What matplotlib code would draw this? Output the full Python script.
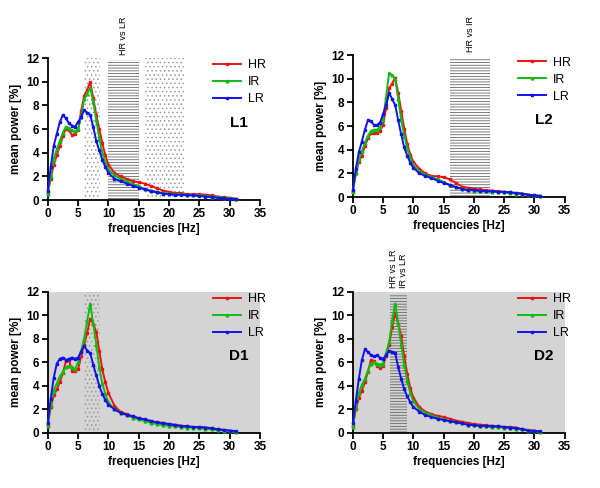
import numpy as np
import matplotlib
matplotlib.use("Agg")
import matplotlib.pyplot as plt

plt.rcParams['font.family'] = ['Liberation Sans', 'DejaVu Sans']
plt.rcParams['hatch.linewidth'] = 0.6

# frequency axis: 0.5 Hz steps up to 10 Hz, then 1 Hz steps
freq = [0, 0.5, 1, 1.5, 2, 2.5, 3, 3.5, 4, 4.5, 5, 5.5, 6, 6.5, 7, 7.5, 8, 8.5, 9, 9.5, 10,
        11, 12, 13, 14, 15, 16, 17, 18, 19, 20, 21, 22, 23, 24, 25, 26, 27, 28, 29, 30, 31]

L1_HR = [0.6, 1.8, 3.0, 3.8, 4.6, 5.4, 6.0, 5.9, 5.5, 5.6, 5.9, 7.5, 8.8, 9.3, 10.0, 8.6, 7.2, 6.0, 4.8, 3.8, 3.0,
         2.3, 2.0, 1.8, 1.6, 1.5, 1.4, 1.2, 1.0, 0.8, 0.7, 0.6, 0.6, 0.5, 0.5, 0.5, 0.45, 0.4, 0.3, 0.25, 0.2, 0.1]
L1_IR = [0.5, 2.0, 3.5, 4.3, 5.0, 5.7, 6.2, 6.1, 5.9, 5.8, 6.0, 7.0, 8.5, 9.0, 9.5, 8.3, 6.8, 5.2, 4.0, 3.2, 2.6,
         2.1, 1.8, 1.6, 1.35, 1.15, 0.95, 0.8, 0.7, 0.6, 0.55, 0.5, 0.5, 0.45, 0.4, 0.4, 0.35, 0.3, 0.25, 0.2, 0.15, 0.1]
L1_LR = [0.8, 2.8, 4.6, 5.6, 6.6, 7.2, 6.9, 6.5, 6.3, 6.2, 6.6, 7.0, 7.6, 7.4, 7.2, 6.2, 5.0, 4.2, 3.4, 2.8, 2.3,
         1.8, 1.6, 1.4, 1.2, 1.05, 0.9, 0.75, 0.65, 0.55, 0.5, 0.45, 0.45, 0.4, 0.4, 0.35, 0.3, 0.25, 0.2, 0.15, 0.1, 0.1]

L2_HR = [0.5, 2.0, 3.0, 3.5, 4.3, 5.0, 5.4, 5.4, 5.4, 5.6, 6.1, 7.5, 9.2, 9.6, 10.1, 8.8, 7.3, 5.8, 4.5, 3.6, 3.0,
         2.4, 2.0, 1.8, 1.75, 1.7, 1.5, 1.2, 0.9, 0.8, 0.7, 0.65, 0.6, 0.55, 0.5, 0.45, 0.4, 0.35, 0.3, 0.2, 0.15, 0.1]
L2_IR = [0.4, 2.0, 3.2, 3.9, 4.6, 5.2, 5.6, 5.7, 5.7, 5.9, 6.5, 8.5, 10.5, 10.3, 10.0, 8.3, 6.5, 5.2, 4.1, 3.3, 2.7,
         2.2, 1.9, 1.7, 1.5, 1.3, 1.0, 0.85, 0.7, 0.6, 0.55, 0.5, 0.5, 0.45, 0.45, 0.4, 0.35, 0.3, 0.25, 0.2, 0.15, 0.1]
L2_LR = [0.6, 2.4, 3.8, 4.7, 5.7, 6.5, 6.4, 6.1, 6.1, 6.3, 7.0, 7.8, 8.8, 8.3, 7.8, 6.5, 5.3, 4.2, 3.5, 2.9, 2.5,
         2.0, 1.8, 1.6, 1.4, 1.2, 1.05, 0.85, 0.7, 0.6, 0.6, 0.55, 0.5, 0.5, 0.45, 0.45, 0.4, 0.35, 0.3, 0.2, 0.15, 0.1]

D1_HR = [0.6, 2.2, 3.2, 3.7, 4.3, 5.1, 6.1, 6.2, 5.3, 5.3, 5.4, 6.5, 7.5, 8.5, 9.7, 9.3, 8.6, 7.0, 5.4, 4.3, 3.4,
         2.3, 1.8, 1.6, 1.4, 1.25, 1.15, 1.0, 0.9, 0.85, 0.75, 0.7, 0.6, 0.55, 0.5, 0.5, 0.45, 0.4, 0.3, 0.25, 0.15, 0.1]
D1_IR = [0.6, 2.4, 3.6, 4.2, 4.8, 5.2, 5.6, 5.7, 5.6, 5.4, 6.0, 7.0, 8.0, 9.5, 11.0, 9.3, 7.5, 5.6, 4.2, 3.3, 2.6,
         2.0, 1.7, 1.5, 1.3, 1.15, 1.0, 0.85, 0.75, 0.65, 0.6, 0.55, 0.5, 0.45, 0.45, 0.4, 0.35, 0.3, 0.25, 0.2, 0.15, 0.1]
D1_LR = [0.8, 2.9, 4.7, 5.9, 6.3, 6.4, 6.2, 6.3, 6.4, 6.3, 6.4, 6.9, 7.4, 7.0, 6.8, 5.8, 4.9, 4.0, 3.3, 2.8, 2.4,
         2.0, 1.7, 1.55, 1.4, 1.25, 1.15, 1.0, 0.9, 0.8, 0.75, 0.65, 0.6, 0.55, 0.5, 0.5, 0.45, 0.4, 0.3, 0.25, 0.2, 0.15]

D2_HR = [0.6, 2.0, 3.0, 3.6, 4.3, 5.2, 6.2, 6.1, 5.7, 5.5, 5.7, 6.5, 7.5, 9.0, 10.2, 9.3, 8.2, 6.5, 5.0, 3.8, 3.0,
         2.2, 1.8, 1.6, 1.45, 1.35, 1.2, 1.05, 0.95, 0.85, 0.75, 0.7, 0.65, 0.6, 0.55, 0.5, 0.5, 0.45, 0.3, 0.25, 0.2, 0.1]
D2_IR = [0.5, 2.2, 3.4, 4.1, 4.6, 5.3, 5.9, 6.0, 5.9, 5.8, 5.9, 6.8, 7.7, 9.5, 11.0, 9.3, 7.5, 5.8, 4.4, 3.4, 2.7,
         2.0, 1.7, 1.5, 1.3, 1.15, 1.0, 0.9, 0.8, 0.7, 0.65, 0.6, 0.55, 0.5, 0.5, 0.45, 0.4, 0.35, 0.3, 0.2, 0.15, 0.1]
D2_LR = [0.8, 2.7, 4.6, 6.2, 7.1, 6.9, 6.6, 6.5, 6.6, 6.4, 6.3, 6.6, 7.0, 6.9, 6.8, 5.6, 4.6, 3.7, 3.1, 2.6, 2.2,
         1.8, 1.5, 1.35, 1.2, 1.1, 1.0, 0.9, 0.8, 0.7, 0.65, 0.6, 0.6, 0.55, 0.55, 0.5, 0.45, 0.4, 0.3, 0.2, 0.15, 0.15]

groups = ['HR', 'IR', 'LR']
colors = ['#ee1111', '#11bb11', '#1111ee']
markers = ['s', '^', 's']

# panel: name, axes rect, series, gray bg, shaded bands (x0, x1, style, top), labels (x, text)
panels = [
    ('L1', [0.0795, 0.590, 0.354, 0.291], [L1_HR, L1_IR, L1_LR], False,
     [(6, 8.7, 'dot', 12), (10, 15, 'line', 11.8), (16, 22.5, 'dot', 12)],
     [(12.5, 'HR vs LR')]),
    ('L2', [0.588, 0.596, 0.353, 0.291], [L2_HR, L2_IR, L2_LR], False,
     [(16, 22.6, 'line', 11.8)],
     [(19.4, 'HR vs IR')]),
    ('D1', [0.0795, 0.113, 0.354, 0.289], [D1_HR, D1_IR, D1_LR], True,
     [(6, 8.7, 'dot', 12)],
     []),
    ('D2', [0.588, 0.113, 0.353, 0.289], [D2_HR, D2_IR, D2_LR], True,
     [(6.1, 8.9, 'line', 11.8)],
     [(6.8, 'HR vs LR'), (8.4, 'IR vs LR')]),
]

fig = plt.figure(figsize=(6, 4.88), dpi=100)

for name, rect, series, gray, bands, labels in panels:
    ax = fig.add_axes(rect)
    if gray:
        ax.set_facecolor('#d4d4d4')
    for x0, x1, style, top in bands:
        if style == 'line':
            ax.axvspan(x0, x1, ymax=top / 12, facecolor='none', edgecolor='#666666',
                       hatch='------', linewidth=0, zorder=1)
        else:
            ax.axvspan(x0, x1, ymax=top / 12, facecolor='none', edgecolor='#9a9a9a',
                       hatch='....', linewidth=0, zorder=1)
    for vals, g, c, m in zip(series, groups, colors, markers):
        ax.plot(freq, vals, color=c, marker=m, markersize=2, linewidth=1.4,
                label=g, clip_on=False, zorder=3)
    for lx, txt in labels:
        ax.text(lx, 12.3, txt, rotation=90, ha='center', va='bottom', fontsize=6.5)

    ax.set_xlim(0, 35)
    ax.set_ylim(0, 12)
    ax.set_xticks(range(0, 36, 5))
    ax.set_yticks(range(0, 13, 2))
    for s in ['top', 'right']:
        ax.spines[s].set_visible(False)
    for s in ['left', 'bottom']:
        ax.spines[s].set_linewidth(1.3)
    ax.tick_params(direction='out', length=4, width=1.3, labelsize=8.5, pad=2)
    for lab in ax.get_xticklabels() + ax.get_yticklabels():
        lab.set_fontweight('bold')
    ax.set_xlabel('frequencies [Hz]', fontsize=8.5, fontweight='bold', labelpad=2)
    ax.set_ylabel('mean power [%]', fontsize=8.5, fontweight='bold', labelpad=3)
    ax.legend(loc='upper left', bbox_to_anchor=(0.78, 0.99), frameon=False,
              fontsize=9, borderpad=0, borderaxespad=0, handlelength=2.2,
              handletextpad=0.6, labelspacing=0.4)
    ax.text(31.5, 6.5, name, ha='center', va='center', fontsize=11, fontweight='bold')

fig.savefig('out.png', dpi=100)
